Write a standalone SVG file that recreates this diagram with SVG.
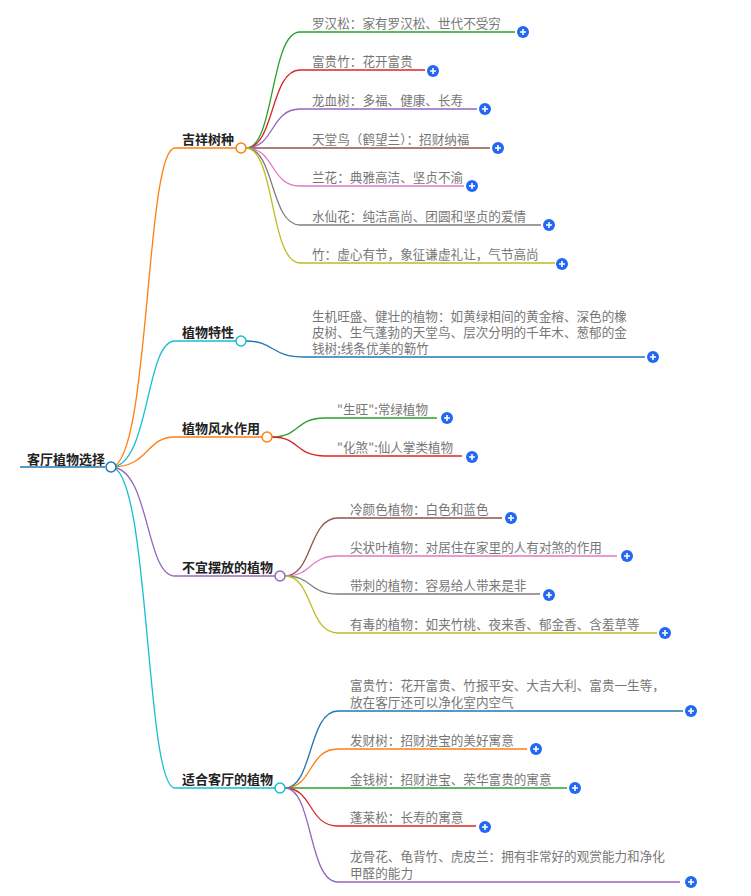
<svg xmlns="http://www.w3.org/2000/svg" width="751" height="896" viewBox="0 0 751 896">
<style>
text{font-family:"Noto Sans CJK SC","Noto Sans",sans-serif;font-size:13px}
.l{fill:#777;font-size:12.6px}
.b{fill:#222;font-weight:bold}
.e{fill:none;stroke-width:1.3}
.c{fill:#fff;stroke-width:1.5}
</style>
<defs>
<g id="plus"><circle r="6" fill="#2468f2"/><path d="M-3 0H3M0-3V3" stroke="#fff" stroke-width="1.6"/></g>
</defs>
<rect width="751" height="896" fill="#fff"/>
<g id="connectors">
<path class="e" stroke="#1f77b4" stroke-width="3" d="M20 467H105"/>
<path class="e" stroke="#ff7f0e" stroke-width="2" d="M111 467C150 467 145 148 175 148H236"/>
<path class="e" stroke="#17becf" stroke-width="2" d="M111 467C150 467 145 341 175 341H236"/>
<path class="e" stroke="#ff7f0e" stroke-width="2" d="M111 467C150 467 145 437 175 437H262"/>
<path class="e" stroke="#9467bd" stroke-width="2" d="M111 467C150 467 145 576 175 576H275"/>
<path class="e" stroke="#17becf" stroke-width="2" d="M111 467C150 467 145 788 175 788H275"/>
<path class="e" stroke="#2ca02c" d="M246 148C275 148 270 32 300 32H515"/>
<path class="e" stroke="#d62728" d="M246 148C275 148 270 70 300 70H425"/>
<path class="e" stroke="#9467bd" d="M246 148C275 148 270 109 300 109H477"/>
<path class="e" stroke="#8c564b" d="M246 148H490"/>
<path class="e" stroke="#e377c2" d="M246 148C275 148 270 186 300 186H464"/>
<path class="e" stroke="#7f7f7f" d="M246 148C275 148 270 225 300 225H541"/>
<path class="e" stroke="#bcbd22" d="M246 148C275 148 270 263 300 263H555"/>
<path class="e" stroke="#1f77b4" d="M246 341C275 341 270 357 305 357H645"/>
<path class="e" stroke="#2ca02c" d="M272 437C300 437 295 418 325 418H437"/>
<path class="e" stroke="#d62728" d="M272 437C300 437 295 456 325 456H462"/>
<path class="e" stroke="#8c564b" d="M285 576C313 576 308 518 338 518H502"/>
<path class="e" stroke="#e377c2" d="M285 576C313 576 308 556 338 556H617"/>
<path class="e" stroke="#7f7f7f" d="M285 576C313 576 308 594 338 594H540"/>
<path class="e" stroke="#bcbd22" d="M285 576C313 576 308 633 338 633H657"/>
<path class="e" stroke="#1f77b4" d="M285 788C313 788 308 711 338 711H683"/>
<path class="e" stroke="#ff7f0e" d="M285 788C313 788 308 749 338 749H527"/>
<path class="e" stroke="#2ca02c" d="M285 788H567"/>
<path class="e" stroke="#d62728" d="M285 788C313 788 308 826 338 826H476"/>
<path class="e" stroke="#9467bd" d="M285 788C313 788 308 882 338 882H680"/>
</g>
<g id="root"><text class="b" x="27" y="464">客厅植物选择</text><circle class="c" cx="111" cy="467" r="5" stroke="#1f77b4"/></g>
<g id="n1"><text class="b" x="182" y="144">吉祥树种</text><circle class="c" cx="241" cy="148" r="5" stroke="#ff7f0e"/></g>
<g id="n2"><text class="b" x="182" y="337">植物特性</text><circle class="c" cx="241" cy="341" r="5" stroke="#17becf"/></g>
<g id="n3"><text class="b" x="182" y="433">植物风水作用</text><circle class="c" cx="267" cy="437" r="5" stroke="#ff7f0e"/></g>
<g id="n4"><text class="b" x="182" y="572">不宜摆放的植物</text><circle class="c" cx="280" cy="576" r="5" stroke="#9467bd"/></g>
<g id="n5"><text class="b" x="182" y="784">适合客厅的植物</text><circle class="c" cx="280" cy="788" r="5" stroke="#17becf"/></g>
<g id="l1"><text class="l" x="312" y="28">罗汉松：家有罗汉松、世代不受穷</text><use href="#plus" x="523" y="32"/></g>
<g id="l2"><text class="l" x="312" y="66">富贵竹：花开富贵</text><use href="#plus" x="433" y="71"/></g>
<g id="l3"><text class="l" x="312" y="105">龙血树：多福、健康、长寿</text><use href="#plus" x="485" y="109"/></g>
<g id="l4"><text class="l" x="312" y="144">天堂鸟（鹤望兰）：招财纳福</text><use href="#plus" x="498" y="148"/></g>
<g id="l5"><text class="l" x="312" y="182">兰花：典雅高洁、坚贞不渝</text><use href="#plus" x="472" y="186"/></g>
<g id="l6"><text class="l" x="312" y="221">水仙花：纯洁高尚、团圆和坚贞的爱情</text><use href="#plus" x="549" y="225"/></g>
<g id="l7"><text class="l" x="312" y="259">竹：虚心有节，象征谦虚礼让，气节高尚</text><use href="#plus" x="562" y="264"/></g>
<g id="l8"><text class="l" x="312" y="321">生机旺盛、健壮的植物：如黄绿相间的黄金榕、深色的橡</text><text class="l" x="312" y="337">皮树、生气蓬勃的天堂鸟、层次分明的千年木、葱郁的金</text><text class="l" x="312" y="353">钱树;线条优美的簕竹</text><use href="#plus" x="653" y="357"/></g>
<g id="l9"><text class="l" x="337" y="414">"生旺":常绿植物</text><use href="#plus" x="447" y="418"/></g>
<g id="l10"><text class="l" x="337" y="452">"化煞":仙人掌类植物</text><use href="#plus" x="472" y="457"/></g>
<g id="l11"><text class="l" x="350" y="514">冷颜色植物：白色和蓝色</text><use href="#plus" x="511" y="518"/></g>
<g id="l12"><text class="l" x="350" y="552">尖状叶植物：对居住在家里的人有对煞的作用</text><use href="#plus" x="627" y="556"/></g>
<g id="l13"><text class="l" x="350" y="590">带刺的植物：容易给人带来是非</text><use href="#plus" x="549" y="595"/></g>
<g id="l14"><text class="l" x="350" y="629">有毒的植物：如夹竹桃、夜来香、郁金香、含羞草等</text><use href="#plus" x="665" y="633"/></g>
<g id="l15"><text class="l" x="350" y="690">富贵竹：花开富贵、竹报平安、大吉大利、富贵一生等，</text><text class="l" x="350" y="707">放在客厅还可以净化室内空气</text><use href="#plus" x="691" y="711"/></g>
<g id="l16"><text class="l" x="350" y="745">发财树：招财进宝的美好寓意</text><use href="#plus" x="536" y="749"/></g>
<g id="l17"><text class="l" x="350" y="784">金钱树：招财进宝、荣华富贵的寓意</text><use href="#plus" x="575" y="788"/></g>
<g id="l18"><text class="l" x="350" y="822">蓬莱松：长寿的寓意</text><use href="#plus" x="485" y="827"/></g>
<g id="l19"><text class="l" x="350" y="861">龙骨花、龟背竹、虎皮兰：拥有非常好的观赏能力和净化</text><text class="l" x="350" y="878">甲醛的能力</text><use href="#plus" x="691" y="882"/></g>
</svg>
